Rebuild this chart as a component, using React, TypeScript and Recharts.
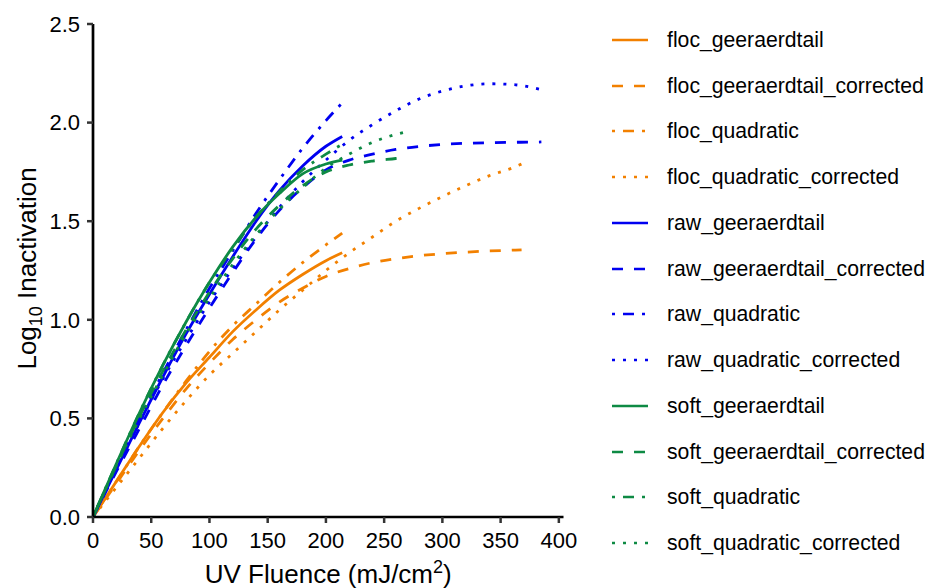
import React from "react";
import { LineChart, Line, XAxis, YAxis } from "recharts";

// Fluence grids (mJ/cm2) – each fit is evaluated over its own range
const fluence214 = [0, 20, 40, 60, 80, 100, 120, 140, 160, 180, 200, 214];
const fluence270 = [0, 20, 40, 60, 80, 100, 120, 140, 160, 180, 200, 220, 240, 260, 270];
const fluence368 = [0, 20, 40, 60, 80, 100, 120, 140, 160, 180, 200, 220, 240, 260, 280, 300, 320, 340, 360, 368];
const fluence385 = [0, 20, 40, 60, 80, 100, 120, 140, 160, 180, 200, 220, 240, 260, 280, 300, 320, 340, 360, 380, 385];

// Log10 inactivation per model fit
const flocGeeraerdtail = [0, 0.18, 0.36, 0.53, 0.68, 0.81, 0.94, 1.05, 1.15, 1.23, 1.3, 1.34];
const flocGeeraerdtailCorrected = [0, 0.17, 0.34, 0.5, 0.65, 0.78, 0.9, 1.0, 1.09, 1.16, 1.22, 1.26, 1.29, 1.31, 1.325, 1.335, 1.343, 1.349, 1.353, 1.355];
const flocQuadratic = [0, 0.18, 0.36, 0.53, 0.69, 0.84, 0.97, 1.08, 1.19, 1.29, 1.38, 1.44];
const flocQuadraticCorrected = [0, 0.15, 0.3, 0.45, 0.59, 0.72, 0.83, 0.94, 1.05, 1.15, 1.25, 1.34, 1.42, 1.5, 1.565, 1.625, 1.68, 1.73, 1.77, 1.79];

const rawGeeraerdtail = [0, 0.24, 0.48, 0.71, 0.93, 1.13, 1.32, 1.5, 1.655, 1.78, 1.88, 1.93];
const rawGeeraerdtailCorrected = [0, 0.23, 0.45, 0.67, 0.87, 1.06, 1.24, 1.41, 1.555, 1.67, 1.76, 1.81, 1.84, 1.864, 1.879, 1.889, 1.895, 1.898, 1.9, 1.901, 1.902];
const rawQuadratic = [0, 0.256, 0.5, 0.73, 0.95, 1.16, 1.35, 1.54, 1.71, 1.87, 2.01, 2.1];
const rawQuadraticCorrected = [0, 0.248, 0.48, 0.7, 0.9, 1.09, 1.26, 1.42, 1.57, 1.7, 1.81, 1.91, 1.99, 2.06, 2.12, 2.16, 2.186, 2.197, 2.193, 2.174, 2.167];

const softGeeraerdtail = [0, 0.27, 0.53, 0.77, 0.99, 1.19, 1.37, 1.52, 1.64, 1.74, 1.79, 1.81];
const softGeeraerdtailCorrected = [0, 0.26, 0.51, 0.74, 0.95, 1.14, 1.31, 1.46, 1.58, 1.68, 1.75, 1.785, 1.805, 1.818, 1.825];
const softQuadratic = [0, 0.27, 0.53, 0.77, 0.99, 1.19, 1.36, 1.52, 1.65, 1.76, 1.84, 1.89];
const softQuadraticCorrected = [0, 0.26, 0.5, 0.72, 0.93, 1.11, 1.28, 1.43, 1.56, 1.67, 1.77, 1.84, 1.9, 1.94, 1.955];

const xTicks = [0, 50, 100, 150, 200, 250, 300, 350, 400];
const yTicks = [0, 0.5, 1, 1.5, 2, 2.5];

const ORANGE = "#F28000";
const BLUE = "#0000F0";
const GREEN = "#0E8A44";
const FONT = "'Liberation Sans', Arial, sans-serif";

// ggplot-ish linetypes at ~2.7px line width
const DASHED = "11 11";
const DOTDASH = "3 8 11 8";
const DOTTED = "3 8";

const zip = (xs: number[], ys: number[]) => xs.map((x, i) => ({ x, y: ys[i] }));

const series = [
  { name: "floc_geeraerdtail", data: zip(fluence214, flocGeeraerdtail), color: ORANGE, dash: undefined },
  { name: "floc_geeraerdtail_corrected", data: zip(fluence368, flocGeeraerdtailCorrected), color: ORANGE, dash: DASHED },
  { name: "floc_quadratic", data: zip(fluence214, flocQuadratic), color: ORANGE, dash: DOTDASH },
  { name: "floc_quadratic_corrected", data: zip(fluence368, flocQuadraticCorrected), color: ORANGE, dash: DOTTED },
  { name: "raw_geeraerdtail", data: zip(fluence214, rawGeeraerdtail), color: BLUE, dash: undefined },
  { name: "raw_geeraerdtail_corrected", data: zip(fluence385, rawGeeraerdtailCorrected), color: BLUE, dash: DASHED },
  { name: "raw_quadratic", data: zip(fluence214, rawQuadratic), color: BLUE, dash: DOTDASH },
  { name: "raw_quadratic_corrected", data: zip(fluence385, rawQuadraticCorrected), color: BLUE, dash: DOTTED },
  { name: "soft_geeraerdtail", data: zip(fluence214, softGeeraerdtail), color: GREEN, dash: undefined },
  { name: "soft_geeraerdtail_corrected", data: zip(fluence270, softGeeraerdtailCorrected), color: GREEN, dash: DASHED },
  { name: "soft_quadratic", data: zip(fluence214, softQuadratic), color: GREEN, dash: DOTDASH },
  { name: "soft_quadratic_corrected", data: zip(fluence270, softQuadraticCorrected), color: GREEN, dash: DOTTED },
];

function XTitle(props: any) {
  const { x, y, width } = props.viewBox;
  return (
    <text x={x + width / 2} y={y + 66} textAnchor="middle" fontFamily={FONT} fontSize={26} fill="#000">
      UV Fluence (mJ/cm
      <tspan fontSize={18} dy={-10}>2</tspan>
      <tspan dy={10}>)</tspan>
    </text>
  );
}

function YTitle(props: any) {
  const { y, height } = props.viewBox;
  const cx = 36;
  const cy = y + height / 2 - 2;
  return (
    <text x={cx} y={cy} transform={`rotate(-90, ${cx}, ${cy})`} textAnchor="middle" fontFamily={FONT} fontSize={26} fill="#000">
      Log
      <tspan fontSize={18} dy={6}>10</tspan>
      <tspan dy={-6}> Inactivation</tspan>
    </text>
  );
}

function LegendList() {
  return (
    <div style={{ position: "absolute", left: 612, top: 17, fontFamily: FONT, fontSize: 21.2, color: "#000" }}>
      {series.map((s) => (
        <div key={s.name} style={{ display: "flex", alignItems: "center", height: 45.75, whiteSpace: "nowrap" }}>
          <svg width={36} height={6} style={{ flex: "none" }}>
            <line x1={0} y1={3} x2={36} y2={3} stroke={s.color} strokeWidth={2.7} strokeDasharray={s.dash} />
          </svg>
          <span style={{ marginLeft: 19 }}>{s.name}</span>
        </div>
      ))}
    </div>
  );
}

export default function App() {
  return (
    <div style={{ position: "absolute", left: 0, top: 0, width: 927, height: 588, background: "#fff" }}>
      <LineChart width={927} height={588} margin={{ top: 24, right: 363.5, bottom: 0, left: 33 }}>
        <XAxis
          type="number"
          dataKey="x"
          domain={[0, 404]}
          ticks={xTicks}
          allowDuplicatedCategory={false}
          height={71}
          tickSize={6}
          tickMargin={9}
          axisLine={{ stroke: "#000", strokeWidth: 2.7 }}
          tickLine={{ stroke: "#333", strokeWidth: 2.5 }}
          tick={{ fill: "#000", fontSize: 22, fontFamily: FONT }}
          label={<XTitle />}
        />
        <YAxis
          type="number"
          domain={[0, 2.5]}
          ticks={yTicks}
          width={60}
          tickSize={6}
          tickMargin={7}
          tickFormatter={(v: number) => v.toFixed(1)}
          axisLine={{ stroke: "#000", strokeWidth: 2.7 }}
          tickLine={{ stroke: "#333", strokeWidth: 2.5 }}
          tick={{ fill: "#000", fontSize: 22, fontFamily: FONT }}
          label={<YTitle />}
        />
        {series.map((s) => (
          <Line
            key={s.name}
            data={s.data}
            dataKey="y"
            name={s.name}
            type="monotone"
            stroke={s.color}
            strokeWidth={2.8}
            strokeDasharray={s.dash}
            dot={false}
            activeDot={false}
            isAnimationActive={false}
          />
        ))}
      </LineChart>
      <LegendList />
    </div>
  );
}
